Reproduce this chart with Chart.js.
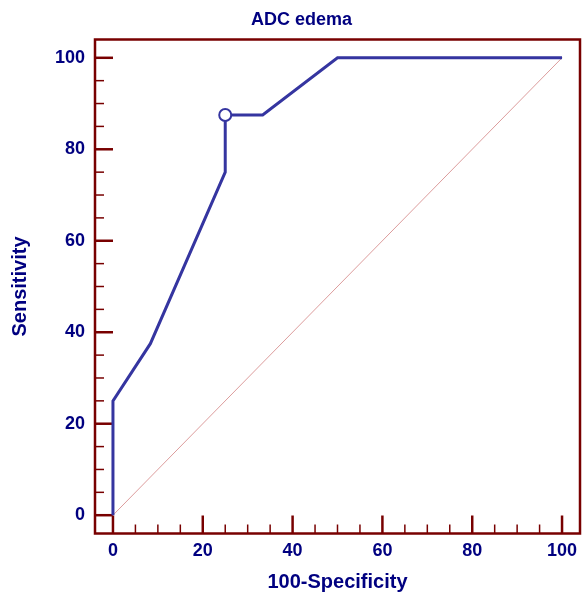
<!DOCTYPE html>
<html>
<head>
<meta charset="utf-8">
<script src="https://cdn.jsdelivr.net/npm/chart.js@4.4.0/dist/chart.umd.min.js"></script>
<style>
    html, body { margin: 0; padding: 0; background: #fff; }
    #wrap { width: 588px; height: 594px; }
</style>
</head>
<body>
<div id="wrap"><canvas id="rocChart"></canvas></div>
<script>
// ROC curve points (100-Specificity, Sensitivity)
const specValues = [0, 0, 8.33, 25, 25, 33.33, 50, 100];
const sensValues = [0, 25, 37.5, 75, 87.5, 87.5, 100, 100];
// criterion point (Youden)
const criterionX = [25];
const criterionY = [87.5];
// reference diagonal
const diagX = [0, 100];
const diagY = [0, 100];
const tickValues = [0, 20, 40, 60, 80, 100];
const minorStep = 5;

const navy = '#000080';
const maroon = '#780000';
const lineBlue = '#3535a0';

function toPoints(xs, ys) {
    return xs.map((x, i) => ({x: x, y: ys[i]}));
}

// frame and inward ticks, like the original
const framePlugin = {
    id: 'frame',
    beforeDatasetsDraw(chart) {
        const {ctx, chartArea: a, scales: {x, y}} = chart;
        ctx.save();
        ctx.strokeStyle = maroon;
        for (let v = 0; v <= 100; v += minorStep) {
            const major = v % 20 === 0;
            const len = major ? 18 : 9;
            ctx.lineWidth = major ? 2.5 : 1.5;
            const px = x.getPixelForValue(v);
            ctx.beginPath();
            ctx.moveTo(px, a.bottom);
            ctx.lineTo(px, a.bottom - len);
            ctx.stroke();
            const py = y.getPixelForValue(v);
            ctx.beginPath();
            ctx.moveTo(a.left, py);
            ctx.lineTo(a.left + len, py);
            ctx.stroke();
        }
        ctx.lineWidth = 2.5;
        ctx.strokeRect(a.left, a.top, a.right - a.left, a.bottom - a.top);
        ctx.restore();
    }
};

const tickFont = {family: 'Liberation Sans, Arial, sans-serif', size: 18, weight: 'bold'};
const titleFont = {family: 'Liberation Sans, Arial, sans-serif', size: 20, weight: 'bold'};

const ctx = document.getElementById('rocChart').getContext('2d');
const rocChart = new Chart(ctx, {
    type: 'scatter',
    data: {
        datasets: [{
            label: 'Reference',
            data: toPoints(diagX, diagY),
            showLine: true,
            borderColor: '#dc9c9c',
            borderWidth: 1,
            pointRadius: 0,
            order: 3
        }, {
            label: 'ADC edema',
            data: toPoints(specValues, sensValues),
            showLine: true,
            borderColor: lineBlue,
            borderWidth: 3,
            pointRadius: 0,
            tension: 0,
            order: 2
        }, {
            label: 'Criterion',
            data: toPoints(criterionX, criterionY),
            showLine: false,
            pointRadius: 6,
            pointHoverRadius: 6,
            pointBackgroundColor: '#ffffff',
            pointBorderColor: lineBlue,
            pointBorderWidth: 2,
            order: 1
        }]
    },
    options: {
        responsive: true,
        maintainAspectRatio: false,
        animation: false,
        layout: {padding: {left: 17, right: 2, top: 0, bottom: 0}},
        scales: {
            x: {
                type: 'linear',
                min: -4,
                max: 104,
                grid: {display: false, drawTicks: false},
                border: {display: false},
                afterBuildTicks: scale => { scale.ticks = tickValues.map(v => ({value: v})); },
                afterFit: scale => { scale.height = 60.5; },
                ticks: {color: navy, font: tickFont, padding: 7},
                title: {display: true, text: '100-Specificity', color: navy, font: titleFont, padding: {top: 0, bottom: 0}}
            },
            y: {
                type: 'linear',
                min: -4,
                max: 104,
                grid: {display: false, drawTicks: false},
                border: {display: false},
                afterBuildTicks: scale => { scale.ticks = tickValues.map(v => ({value: v})); },
                afterFit: scale => { scale.width = 78; },
                ticks: {color: navy, font: tickFont, padding: 10},
                title: {display: true, text: 'Sensitivity', color: navy, font: titleFont, padding: {top: -9, bottom: 0}}
            }
        },
        plugins: {
            legend: {display: false},
            tooltip: {enabled: false},
            title: {
                display: true,
                text: 'ADC edema',
                color: navy,
                font: {family: 'Liberation Sans, Arial, sans-serif', size: 18, weight: 'bold'},
                padding: {top: 9.2, bottom: 8.7}
            }
        }
    },
    plugins: [framePlugin]
});
</script>
</body>
</html>
